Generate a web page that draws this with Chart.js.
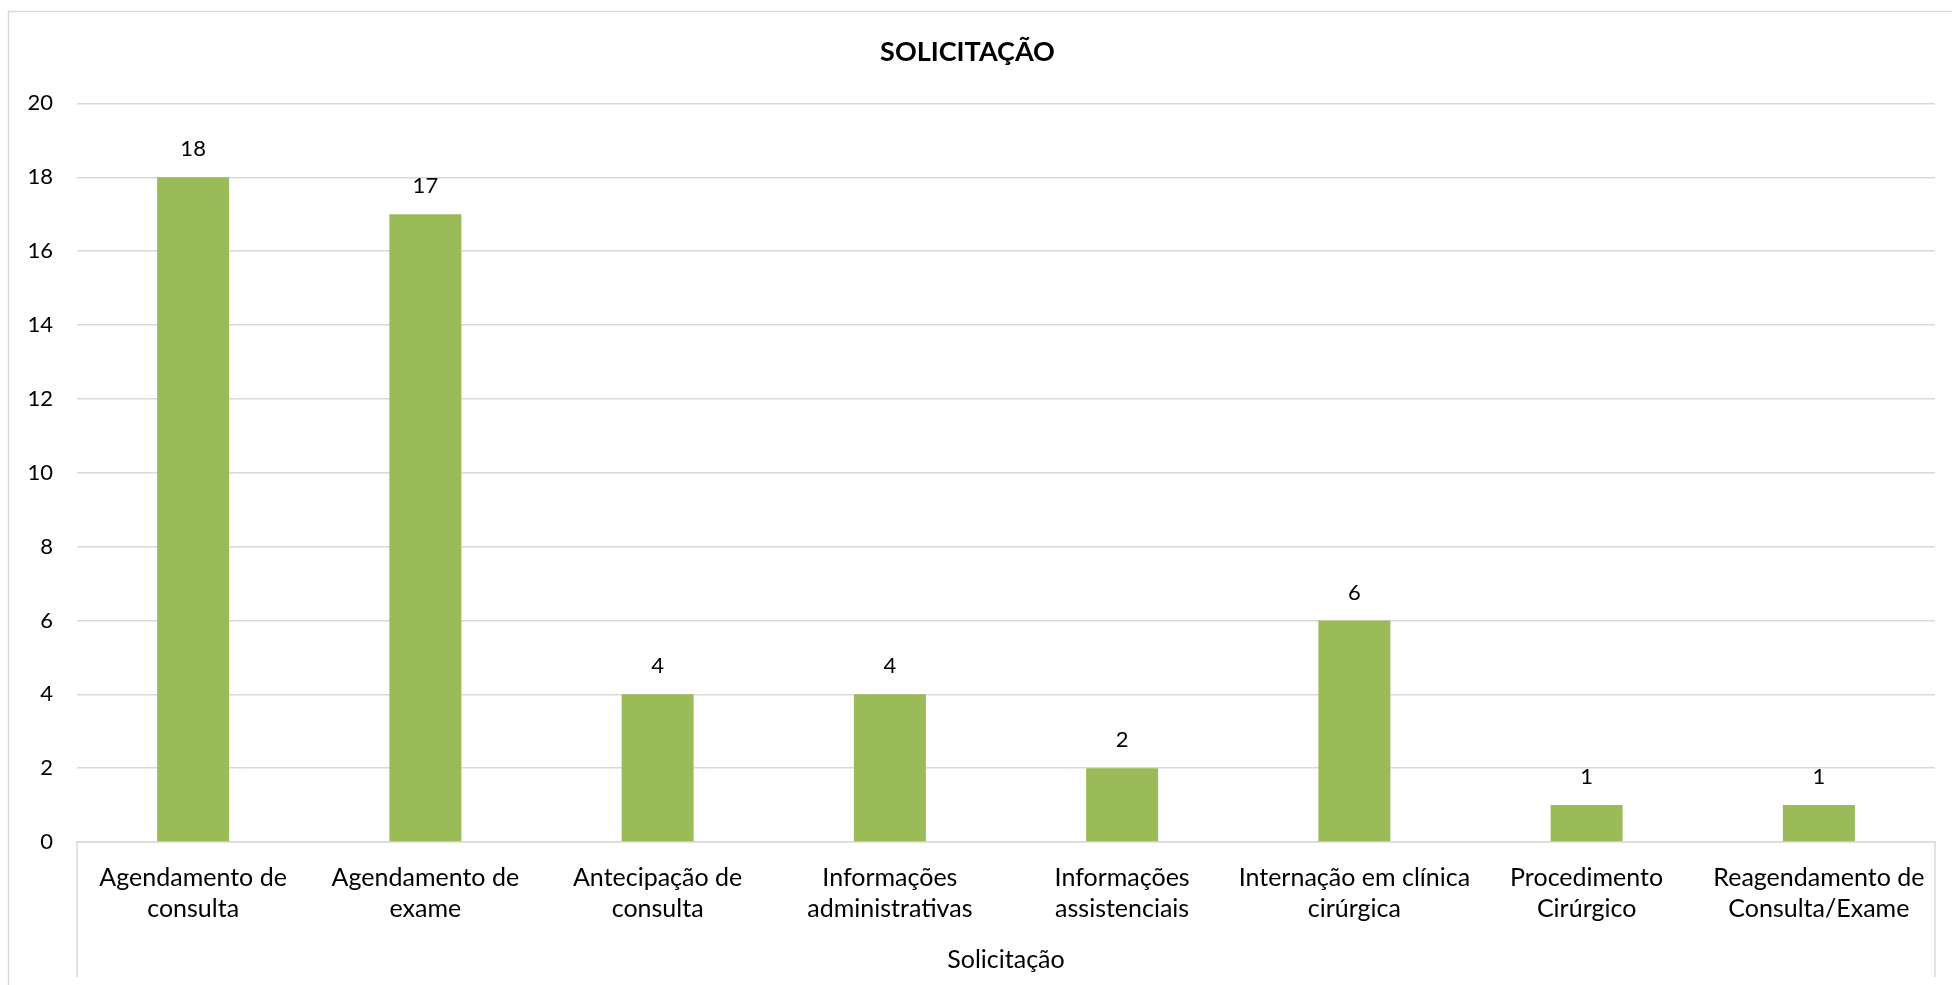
<!DOCTYPE html>
<html>
<head>
<meta charset="utf-8">
<script src="https://cdn.jsdelivr.net/npm/chart.js@4"></script>
<style>
  html, body { margin: 0; padding: 0; background: #fff; }
  #wrap { width: 1952px; height: 985px; position: relative; }
</style>
</head>
<body>
<div id="wrap"><canvas id="solicitacaoChart"></canvas></div>
<script>
// ================= DATA =================
const categories = [
  ["Agendamento de", "consulta"],
  ["Agendamento de", "exame"],
  ["Antecipação de", "consulta"],
  ["Informações", "administrativas"],
  ["Informações", "assistenciais"],
  ["Internação em clínica", "cirúrgica"],
  ["Procedimento", "Cirúrgico"],
  ["Reagendamento de", "Consulta/Exame"]
];
const totals = [18, 17, 4, 4, 2, 6, 1, 1];
const yTicks = [0, 2, 4, 6, 8, 10, 12, 14, 16, 18, 20];

const FONT = "Lato, 'Open Sans', sans-serif";
const GRID = '#d9d9d9';

// draws the value above each bar + the outer frame and the axis box lines
const excelBits = {
  id: 'excelBits',
  afterDraw(chart) {
    const { ctx, chartArea } = chart;
    ctx.save();
    ctx.strokeStyle = GRID;
    ctx.lineWidth = 1.5;
    // outer chart border
    ctx.strokeRect(8.5, 11.5, 1960, 1000);
    // vertical lines framing the category axis
    ctx.beginPath();
    ctx.moveTo(chartArea.left, chartArea.bottom);
    ctx.lineTo(chartArea.left, 977);
    ctx.moveTo(chartArea.right, chartArea.bottom);
    ctx.lineTo(chartArea.right, 977);
    ctx.stroke();

    // value labels
    const meta = chart.getDatasetMeta(0);
    ctx.fillStyle = '#000';
    ctx.font = "22px " + FONT;
    ctx.textAlign = 'center';
    ctx.textBaseline = 'middle';
    meta.data.forEach((bar, i) => {
      ctx.fillText(String(totals[i]), bar.x, bar.y - 28);
    });
    ctx.restore();
  }
};

const ctx = document.getElementById("solicitacaoChart").getContext("2d");
new Chart(ctx, {
  type: "bar",
  data: {
    labels: categories,
    datasets: [{
      label: "Total",
      data: totals,
      backgroundColor: '#9bbb59',
      borderWidth: 0,
      barPercentage: 0.31,
      categoryPercentage: 1
    }]
  },
  options: {
    responsive: true,
    maintainAspectRatio: false,
    animation: false,
    layout: { padding: { left: 0, right: 17, top: 0, bottom: 10 } },
    plugins: {
      legend: { display: false },
      tooltip: { enabled: false },
      title: {
        display: true,
        text: "SOLICITAÇÃO",
        color: '#000',
        font: { family: FONT, size: 27, weight: 'bold' },
        padding: { top: 36, bottom: 35 }
      }
    },
    scales: {
      y: {
        min: 0,
        max: 20,
        afterBuildTicks: s => { s.ticks = yTicks.map(v => ({ value: v })); },
        afterFit: s => { s.width = 77; },
        grid: { color: GRID, lineWidth: 1.5, drawTicks: false },
        border: { display: false },
        ticks: {
          color: '#000',
          padding: 24,
          font: { family: FONT, size: 22 }
        }
      },
      x: {
        grid: { display: false },
        border: { display: true, color: GRID, width: 1.5 },
        ticks: {
          color: '#000',
          padding: 12,
          maxRotation: 0,
          autoSkip: false,
          font: { family: FONT, size: 25, lineHeight: 1.24 }
        },
        title: {
          display: true,
          text: "Solicitação",
          color: '#000',
          font: { family: FONT, size: 25 },
          padding: { top: 9, bottom: 0 }
        }
      }
    }
  },
  plugins: [excelBits]
});
</script>
</body>
</html>
